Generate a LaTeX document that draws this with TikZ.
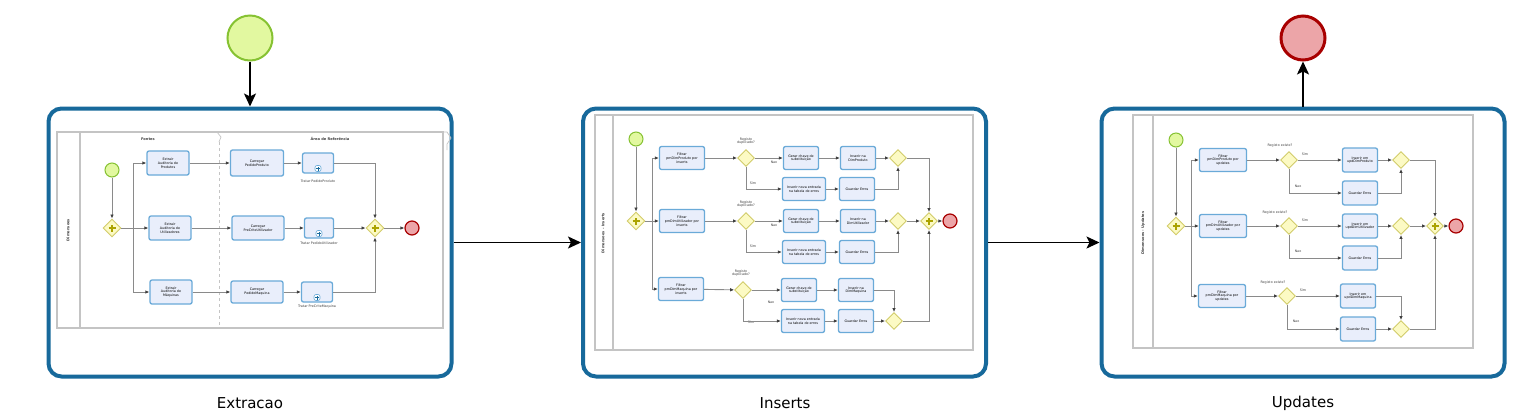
\documentclass[tikz,border=0pt]{standalone}
\usepackage{fontspec}
\setmainfont{DejaVu Sans}
\usetikzlibrary{shapes.geometric,arrows.meta}

\definecolor{boxblue}{HTML}{17699B}
\definecolor{startline}{HTML}{86C232}
\definecolor{startfill}{HTML}{E2F8A0}
\definecolor{stopline}{HTML}{A80000}
\definecolor{stopfill}{HTML}{ECA5A8}
\definecolor{taskline}{HTML}{6AAAD8}
\definecolor{taskfill}{HTML}{E9EEFB}
\definecolor{gateline}{HTML}{D2CC6A}
\definecolor{gatefill}{HTML}{FCFAC4}
\definecolor{plusolive}{HTML}{ABA300}
\definecolor{framegray}{HTML}{C4C4C4}
\definecolor{flowgray}{HTML}{8A8A8A}

\begin{document}
\begin{tikzpicture}[x=1pt,y=-1pt]
        \tikzset{box/.style={draw=boxblue, line width=4pt, rounded corners=13pt, fill=white, minimum width=403pt, minimum height=268pt, inner sep=0},
                 frame/.style={draw=framegray, line width=1.2pt},
                 begin/.style={circle, draw=startline, fill=startfill, line width=2pt, minimum size=45pt, inner sep=0},
                 finish/.style={circle, draw=stopline, fill=stopfill, line width=3pt, minimum size=44pt, inner sep=0},
                 sbegin/.style={begin, line width=1pt, minimum size=14pt},
                 sfinish/.style={finish, line width=1.2pt, minimum size=14pt},
                 task/.style={rectangle, rounded corners=2pt, draw=taskline, fill=taskfill, line width=1.3pt, align=center, inner sep=0, font=\fontsize{3.3}{3.8}\selectfont, minimum width=42pt, minimum height=24pt},
                 sub/.style={task, minimum width=31pt, minimum height=20pt, path picture={
                     \draw[taskline, fill=white, line width=0.6pt] ([xshift=-3pt,yshift=1.5pt]path picture bounding box.south) rectangle ([xshift=3pt,yshift=7.5pt]path picture bounding box.south);
                     \draw[boxblue, line width=0.6pt] ([yshift=2.5pt]path picture bounding box.south) -- ([yshift=6.5pt]path picture bounding box.south) ([xshift=-2pt,yshift=4.5pt]path picture bounding box.south) -- ([xshift=2pt,yshift=4.5pt]path picture bounding box.south);}},
                 gate/.style={diamond, draw=gateline, fill=gatefill, line width=0.9pt, minimum size=18pt, inner sep=0},
                 plus/.style={gate, path picture={
                     \draw[plusolive, line width=1.6pt] ([xshift=-3.5pt]path picture bounding box.center) -- ([xshift=3.5pt]path picture bounding box.center) ([yshift=-3.5pt]path picture bounding box.center) -- ([yshift=3.5pt]path picture bounding box.center);}},
                 lbl/.style={align=center, inner sep=0, text=black!75, font=\fontsize{3.3}{3.8}\selectfont},
                 flow/.style={draw=flowgray, line width=0.9pt, -{Latex[length=4pt,width=3.5pt,color=black!75]}},
                 main/.style={draw=black, line width=1.5pt, -{Stealth[length=13pt,width=12pt,inset=3pt]}}}

        \useasboundingbox (0,0) rectangle (1537,416);

        \node[begin]  (s0) at (250,38) {};
        \node[finish] (e0) at (1303,38) {};

        \node[box] (ext) at (250,242.5) {};
        \node[box] (ins) at (784.5,242.5) {};
        \node[box] (upd) at (1303,242.5) {};

        \node[font=\fontsize{15}{18}\selectfont] (lext) at (250,403) {Extracao};
        \node[font=\fontsize{15}{18}\selectfont] (lins) at (785,403) {Inserts};
        \node[font=\fontsize{15}{18}\selectfont] (lupd) at (1303,403) {Updates};

        \draw[main] (s0) -- (ext);
        \draw[main] (ext) -- (ins);
        \draw[main] (ins) -- (upd);
        \draw[main] (upd) -- (e0);

        \draw[frame] (57,132) rectangle (443,328);
        \draw[frame] (80,132) -- (80,328);
        \draw[framegray, line width=0.7pt, dashed] (219,142) -- (219,328);
        \draw[framegray, line width=0.7pt] (217,132) -- (221,137) -- (219,142);
        \draw[framegray, line width=0.7pt] (443,132) -- (447,132) -- (451,138) -- (447,144) -- (447,150);
        \node[lbl, font=\fontsize{3.6}{4}\bfseries] (hf) at (148,139) {Fontes};
        \node[lbl, font=\fontsize{3.6}{4}\bfseries] (hr) at (330,139) {Área de Referência};
        \node[lbl, rotate=90, font=\fontsize{3.6}{4}\bfseries] (ld1) at (68,230) {Dimensoes};

        \node[sbegin]  (s1) at (112,170) {};
        \node[plus]    (p1) at (112,228) {};
        \node[task]    (a1) at (168,163) {Extrair\\Auditoria de\\Produtos};
        \node[task]    (a2) at (170,228) {Extrair\\Auditoria de\\Utilizadores};
        \node[task]    (a3) at (171,292) {Extrair\\Auditoria de\\Máquinas};
        \node[task, minimum width=53pt, minimum height=26pt] (b1) at (257,163) {Carregar\\PedidoProduto};
        \node[task, minimum width=52pt] (b2) at (258,228) {Carregar\\PreCriteUtilizador};
        \node[task, minimum width=52pt, minimum height=22pt] (b3) at (257,292) {Carregar\\PedidoMaquina};
        \node[sub]     (c1) at (318,163) {};
        \node[sub, minimum width=29pt] (c2) at (319,228) {};
        \node[sub]     (c3) at (317,292) {};
        \node[lbl]     (lc1) at (318,181) {Tratar PedidoProduto};
        \node[lbl]     (lc2) at (319,243) {Tratar PedidoUtilizador};
        \node[lbl]     (lc3) at (317,307) {Tratar PreCriteMaquina};
        \node[plus]    (j1) at (375,228) {};
        \node[sfinish] (e1) at (412,228) {};

        \draw[flow] (s1) -- (p1);
        \draw[flow] (p1) -- (a2);
        \draw[flow] (p1.east) -- ++(12,0) |- (a1);
        \draw[flow] (p1.east) -- ++(12,0) |- (a3);
        \draw[flow] (a1) -- (b1);
        \draw[flow] (a2) -- (b2);
        \draw[flow] (a3) -- (b3);
        \draw[flow] (b1) -- (c1);
        \draw[flow] (b2) -- (c2);
        \draw[flow] (b3) -- (c3);
        \draw[flow] (c1) -| (j1);
        \draw[flow] (c2) -- (j1);
        \draw[flow] (c3) -| (j1);
        \draw[flow] (j1) -- (e1);

        \draw[frame] (595,115) rectangle (973,350);
        \draw[frame] (613,115) -- (613,350);
        \node[lbl, rotate=90, font=\fontsize{3.6}{4}\bfseries] (ld2) at (603,233) {Dimensoes - Inserts};

        \node[sbegin]  (s2) at (636,139) {};
        \node[plus]    (p2) at (636,221) {};
        \node[task, minimum width=45pt, minimum height=23pt] (f1) at (682,158) {Filtrar\\pmDimProduto por\\inserts};
        \node[task, minimum width=45pt, minimum height=23pt] (f2) at (682,221) {Filtrar\\pmDimUtilizador por\\inserts};
        \node[task, minimum width=45pt, minimum height=23pt] (f3) at (681,289) {Filtrar\\pmDimMaquina por\\inserts};
        \node[gate, minimum size=17pt] (x1) at (746,158) {};
        \node[gate, minimum size=17pt] (x2) at (746,221) {};
        \node[gate, minimum size=17pt] (x3) at (743,290) {};
        \node[lbl] (lx1) at (746,141) {Registo\\duplicado?};
        \node[lbl] (lx2) at (746,204) {Registo\\duplicado?};
        \node[lbl] (lx3) at (741,273) {Registo\\duplicado?};
        \node[task, minimum width=35pt, minimum height=23pt] (g1) at (801,158) {Gerar chave de\\substituição};
        \node[task, minimum width=43pt, minimum height=23pt] (h1) at (804,189) {Inserir nova entrada\\na tabela de erros};
        \node[task, minimum width=35pt, minimum height=23pt] (k1) at (858,158) {Inserir na\\DimProduto};
        \node[task, minimum width=35pt, minimum height=23pt] (m1) at (857,189) {Guardar Erros};
        \node[gate, minimum size=17pt] (y1) at (898,158) {};
        \node[task, minimum width=35pt, minimum height=23pt] (g2) at (801,221) {Gerar chave de\\substituição};
        \node[task, minimum width=43pt, minimum height=23pt] (h2) at (804,252) {Inserir nova entrada\\na tabela de erros};
        \node[task, minimum width=35pt, minimum height=23pt] (k2) at (858,221) {Inserir na\\DimUtilizador};
        \node[task, minimum width=35pt, minimum height=23pt] (m2) at (857,252) {Guardar Erros};
        \node[gate, minimum size=17pt] (y2) at (898,221) {};
        \node[task, minimum width=35pt, minimum height=23pt] (g3) at (799,290) {Gerar chave de\\substituição};
        \node[task, minimum width=43pt, minimum height=23pt] (h3) at (803,321) {Inserir nova entrada\\na tabela de erros};
        \node[task, minimum width=35pt, minimum height=23pt] (k3) at (856,290) {Inserir na\\DimMaquina};
        \node[task, minimum width=35pt, minimum height=23pt] (m3) at (856,321) {Guardar Erros};
        \node[gate, minimum size=17pt] (y3) at (894,321) {};
        \node[plus, minimum size=17pt] (q2) at (929,221) {};
        \node[sfinish] (e2) at (950,221) {};
        \node[lbl] (n1) at (774,162) {Nao};
        \node[lbl] (o1) at (753,183) {Sim};
        \node[lbl] (n2) at (774,225) {Nao};
        \node[lbl] (o2) at (753,246) {Sim};
        \node[lbl] (n3) at (771,302) {Nao};
        \node[lbl] (o3) at (751,322) {Sim};

        \draw[flow] (s2) -- (p2);
        \draw[flow] (p2) -- (f2);
        \draw[flow] (p2.east) -- ++(7,0) |- (f1);
        \draw[flow] (p2.east) -- ++(7,0) |- (f3);
        \draw[flow] (f1) -- (x1);
        \draw[flow] (f2) -- (x2);
        \draw[flow] (f3) -- (x3);
        \draw[flow] (x1) -- (g1);
        \draw[flow] (x2) -- (g2);
        \draw[flow] (x3) -- (g3);
        \draw[flow] (x1) |- (h1);
        \draw[flow] (x2) |- (h2);
        \draw[flow] (x3) |- (h3);
        \draw[flow] (g1) -- (k1);
        \draw[flow] (g2) -- (k2);
        \draw[flow] (g3) -- (k3);
        \draw[flow] (h1) -- (m1);
        \draw[flow] (h2) -- (m2);
        \draw[flow] (h3) -- (m3);
        \draw[flow] (k1) -- (y1);
        \draw[flow] (k2) -- (y2);
        \draw[flow] (k3) -| (y3);
        \draw[flow] (m1) -| (y1);
        \draw[flow] (m2) -| (y2);
        \draw[flow] (m3) -- (y3);
        \draw[flow] (y1) -| (q2);
        \draw[flow] (y2) -- (q2);
        \draw[flow] (y3) -| (q2);
        \draw[flow] (q2) -- (e2);

        \draw[frame] (1133,115) rectangle (1473,348);
        \draw[frame] (1153,115) -- (1153,348);
        \node[lbl, rotate=90, font=\fontsize{3.6}{4}\bfseries] (ld3) at (1143,233) {Dimensoes - Updates};

        \node[sbegin]  (s3) at (1176,140) {};
        \node[plus]    (p3) at (1176,226) {};
        \node[task, minimum width=47pt, minimum height=23pt] (u1) at (1223,160) {Filtrar\\pmDimProduto por\\updates};
        \node[task, minimum width=47pt, minimum height=23pt] (u2) at (1223,226) {Filtrar\\pmDimUtilizador por\\updates};
        \node[task, minimum width=47pt, minimum height=23pt] (u3) at (1222,296) {Filtrar\\pmDimMaquina por\\updates};
        \node[gate, minimum size=17pt] (z1) at (1289,160) {};
        \node[gate, minimum size=17pt] (z2) at (1289,226) {};
        \node[gate, minimum size=17pt] (z3) at (1287,296) {};
        \node[lbl] (lz1) at (1280,146) {Registo existe?};
        \node[lbl] (lz2) at (1275,213) {Registo existe?};
        \node[lbl] (lz3) at (1273,283) {Registo existe?};
        \node[task, minimum width=35pt, minimum height=24pt] (v1) at (1360,160) {Inserir em\\updDimProduto};
        \node[task, minimum width=35pt, minimum height=24pt] (w1) at (1360,193) {Guardar Erros};
        \node[task, minimum width=35pt, minimum height=24pt] (v2) at (1360,226) {Inserir em\\updDimUtilizador};
        \node[task, minimum width=35pt, minimum height=24pt] (w2) at (1360,258) {Guardar Erros};
        \node[task, minimum width=35pt, minimum height=24pt] (v3) at (1358,296) {Inserir em\\updDimMaquina};
        \node[task, minimum width=35pt, minimum height=24pt] (w3) at (1358,329) {Guardar Erros};
        \node[gate, minimum size=17pt] (r1) at (1401,160) {};
        \node[gate, minimum size=17pt] (r2) at (1401,226) {};
        \node[gate, minimum size=17pt] (r3) at (1401,329) {};
        \node[plus, minimum size=17pt] (q3) at (1435,226) {};
        \node[sfinish] (e3) at (1456,226) {};
        \node[lbl] (sy1) at (1305,154) {Sim};
        \node[lbl] (sn1) at (1298,186) {Nao};
        \node[lbl] (sy2) at (1305,220) {Sim};
        \node[lbl] (sn2) at (1298,251) {Nao};
        \node[lbl] (sy3) at (1303,290) {Sim};
        \node[lbl] (sn3) at (1296,321) {Nao};

        \draw[flow] (s3) -- (p3);
        \draw[flow] (p3) -- (u2);
        \draw[flow] (p3.east) -- ++(6,0) |- (u1);
        \draw[flow] (p3.east) -- ++(6,0) |- (u3);
        \draw[flow] (u1) -- (z1);
        \draw[flow] (u2) -- (z2);
        \draw[flow] (u3) -- (z3);
        \draw[flow] (z1) -- (v1);
        \draw[flow] (z2) -- (v2);
        \draw[flow] (z3) -- (v3);
        \draw[flow] (z1) |- (w1);
        \draw[flow] (z2) |- (w2);
        \draw[flow] (z3) |- (w3);
        \draw[flow] (v1) -- (r1);
        \draw[flow] (v2) -- (r2);
        \draw[flow] (v3) -| (r3);
        \draw[flow] (w1) -| (r1);
        \draw[flow] (w2) -| (r2);
        \draw[flow] (w3) -- (r3);
        \draw[flow] (r1) -| (q3);
        \draw[flow] (r2) -- (q3);
        \draw[flow] (r3) -| (q3);
        \draw[flow] (q3) -- (e3);
\end{tikzpicture}
\end{document}
